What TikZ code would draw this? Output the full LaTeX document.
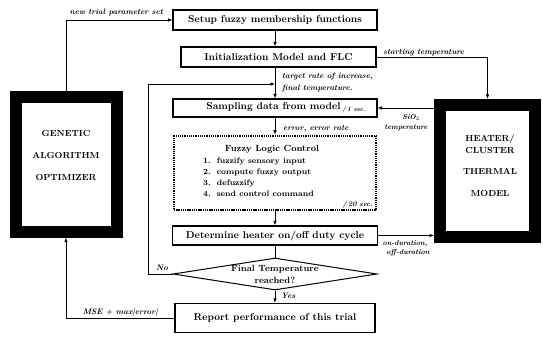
\documentclass[tikz,border=0pt]{standalone}
\usetikzlibrary{shapes.geometric,arrows.meta}
\begin{document}
\begin{tikzpicture}[x=1pt,y=-1pt,
  box/.style={draw,line width=1.1pt,inner sep=0pt,font=\fontsize{10}{12}\selectfont\bfseries},
  lbl/.style={inner sep=0pt,font=\fontsize{7.9}{9}\selectfont\bfseries\itshape},
  slbl/.style={inner sep=0pt,font=\fontsize{7.2}{8}\selectfont\bfseries\itshape},
  conn/.style={line width=0.9pt},
  arr/.style={conn,-{Latex[length=4.5pt,width=3.6pt]}},
  heavybox/.style={draw,line width=12pt,inner sep=0pt},
  bigtxt/.style={inner sep=0pt,align=center,font=\fontsize{8.8}{12}\selectfont\bfseries},
  flcbox/.style={draw,line width=2.6pt,dash pattern=on 1.3pt off 0.9pt,inner sep=0pt}
]
\useasboundingbox (0,0) rectangle (543,342);

% central column
\node[box,minimum width=204pt,minimum height=20pt] (setup) at (275,20) {Setup fuzzy membership functions};
\node[box,minimum width=195pt,minimum height=20pt] (init) at (278.5,57) {Initialization Model and FLC};
\node[box,minimum width=204pt,minimum height=18pt] (samp) at (275,108) {\hspace*{22pt}Sampling data from model\,\raisebox{-2.5pt}{\fontsize{6.5}{7}\selectfont\itshape /\,1 sec.}};
\node[flcbox,minimum width=202pt,minimum height=74pt] (flc) at (275,173) {};
\node[inner sep=0pt,anchor=base,font=\fontsize{9}{10}\selectfont\bfseries] (flct) at (272,151) {Fuzzy Logic Control};
\node[inner sep=0pt,anchor=north west,font=\fontsize{8}{11}\selectfont\bfseries] (flcl) at (203,156)
  {\begin{tabular}{@{}l@{\hspace{6pt}}l@{}}1. & fuzzify sensory input\\ 2. & compute fuzzy output\\ 3. & defuzzify\\ 4. & send control command\end{tabular}};
\node[slbl,anchor=base east] (flcs) at (373,206) {/\,20 sec.};
\node[box,minimum width=205pt,minimum height=19pt] (det) at (275,235.5) {Determine heater on/off duty cycle};
\node[diamond,draw,line width=1pt,inner sep=0pt,minimum width=204pt,minimum height=32pt] (dia) at (275,274) {};
\node[align=center,inner sep=0pt,font=\fontsize{9}{12}\selectfont\bfseries] (diatxt) at (dia.center) {Final Temperature\\reached?};
\node[box,minimum width=200pt,minimum height=29pt] (rep) at (275,318) {Report performance of this trial};

% side blocks
\node[heavybox,minimum width=101pt,minimum height=134pt] (ga) at (66,164.5) {};
\node[bigtxt] (gatxt) at (66,155) {GENETIC\\[10pt]ALGORITHM\\[10pt]OPTIMIZER};
\node[heavybox,minimum width=95pt,minimum height=132pt] (heat) at (487.5,171) {};
\node[bigtxt] (heattxt) at (490,166) {HEATER/\\CLUSTER\\[9pt]THERMAL\\[10pt]MODEL};

% connectors
\coordinate (jn) at (275,84);
\draw[arr] (ga.north) |- (setup.west);
\node[lbl,anchor=base east] at (163,15) {new trial parameter set};
\draw[arr] (setup.south) -- (setup.south |- init.north);
\draw[arr] (init.south -| setup.south) -- (samp.north);
\draw[arr] (dia.west) -- ++(-24,0) |- (jn);
\node[lbl,anchor=base west] at (156,270) {No};
\node[lbl,anchor=base west] at (282,79) {target rate of increase,};
\node[lbl,anchor=base west] at (282,91) {final temperature.};
\draw[arr] (samp.south) -- (flc.north);
\node[lbl,anchor=base west] at (283,131) {error, error rate};
\draw[arr] (flc.south) -- (det.north);
\draw[conn] (det.south) -- (dia.north);
\draw[arr] (dia.south) -- (rep.north);
\node[lbl,anchor=base west] at (281,298) {Yes};
\draw[arr] (rep.west) -| (ga.south);
\node[lbl,anchor=base east] at (158,314) {MSE + max|error|};
\draw[arr] (init.east) -| (heat.north);
\node[lbl,anchor=base west] at (383,55) {starting temperature};
\draw[arr] (heat.west |- samp.east) -- (samp.east);
\node[slbl,anchor=base] at (411,120) {SiO$_2$};
\node[slbl,anchor=base] at (406,129) {temperature};
\draw[arr] (det.east) -- (det.east -| heat.west);
\node[slbl,anchor=base] at (405,245) {on-duration,};
\node[slbl,anchor=base] at (408,254) {off-duration};
\end{tikzpicture}
\end{document}
